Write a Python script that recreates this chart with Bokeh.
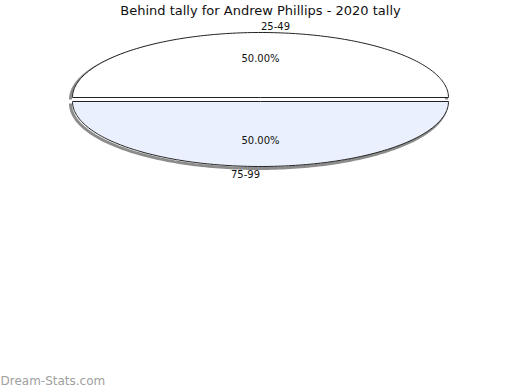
import numpy as np
from bokeh.plotting import figure
from bokeh.models import Range1d
from bokeh.core.properties import value
from bokeh.embed import file_html
from bokeh.resources import INLINE

# ---- data ----
title = "Behind tally for Andrew Phillips - 2020 tally"
categories = ["25-49", "75-99"]
values = [1, 1]
colors = ["#ffffff", "#eaf0fd"]
label_dx = [15, -15]

# ---- layout (pixel-like data space) ----
W, H = 520, 390
cx, cy = 260, 99
rx, ry = 188, 65
explode = 2
shadow_dx, shadow_dy = -2, 2

p = figure(width=W, height=H, output_backend="svg", toolbar_location=None,
           x_range=Range1d(0, W), y_range=Range1d(H, 0), min_border=0)
p.axis.visible = False
p.grid.visible = False
p.outline_line_color = None
p.background_fill_color = "white"

total = float(sum(values))
fracs = [v / total for v in values]
start = 0.0
slices = []
for cat, f, col, dx in zip(categories, fracs, colors, label_dx):
    a0 = start * 2 * np.pi
    a1 = (start + f) * 2 * np.pi
    mid = (a0 + a1) / 2
    ox = explode * np.cos(mid)
    oy = -explode * np.sin(mid)
    t = np.linspace(a0, a1, 160)
    ax = list(cx + ox + rx * np.cos(t))
    ay = list(cy + oy - ry * np.sin(t))
    xs = [cx + ox] + ax
    ys = [cy + oy] + ay
    slices.append((cat, f, col, dx, mid, ox, oy, xs, ys, ax, ay))
    start += f

# shadows (along the outer arcs)
for s in slices:
    ax, ay = s[9], s[10]
    p.line([x + shadow_dx for x in ax], [y + shadow_dy for y in ay],
           line_color="#8c8c8c", line_width=3)
# slices
for s in slices:
    p.patch(s[7], s[8], fill_color=s[2], line_color="#222222", line_width=1)

# labels
for cat, f, col, dx, mid, ox, oy, xs, ys, ax, ay in slices:
    px = cx + ox + 0.6 * rx * np.cos(mid)
    py = cy + oy - 0.6 * ry * np.sin(mid)
    p.text(x=[px], y=[py], text=["%.2f%%" % (f * 100)], text_align="center",
           text_baseline="middle", text_font=value("DejaVu Sans"),
           text_font_size="10px", text_color="#111111")
    lx = cx + ox + rx * np.cos(mid) + dx
    ly = cy + oy - (ry + 7) * np.sin(mid)
    p.text(x=[lx], y=[ly], text=[cat], text_align="center",
           text_baseline="middle", text_font=value("DejaVu Sans"),
           text_font_size="10px", text_color="#111111")

p.text(x=[W / 2], y=[10], text=[title], text_align="center", text_baseline="middle",
       text_font=value("DejaVu Sans"), text_font_size="13px", text_color="#111111")
p.text(x=[0], y=[380], text=["Dream-Stats.com"], text_align="left", text_baseline="middle",
       text_font=value("DejaVu Sans"), text_font_size="12px", text_color="#a0a0a0")

open("out.html", "w").write(file_html(p, INLINE))
